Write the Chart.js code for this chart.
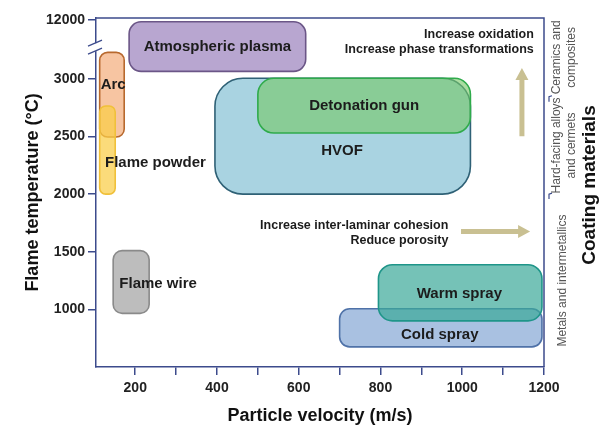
<!DOCTYPE html>
<html>
<head>
<meta charset="utf-8">
<script src="https://cdn.jsdelivr.net/npm/chart.js@4.4.1/dist/chart.umd.min.js"></script>
<style>
  html, body { margin: 0; padding: 0; background: #fff; }
  canvas { display: block; }
</style>
</head>
<body>
<canvas id="chart" width="603" height="428"></canvas>
<script>
// Thermal spray processes: particle velocity range (m/s) and flame temperature range (°C).
// The temperature axis is broken above 3000 °C: the top band is compressed so that
// the position labelled 12000 sits just under the top of the plot.
const processNames   = ['Atmospheric plasma', 'Arc', 'Flame powder', 'Flame wire', 'HVOF', 'Detonation gun', 'Cold spray', 'Warm spray'];
const velocityMin    = [185, 113, 113, 146, 395, 500, 700, 795];
const velocityMax    = [617, 173, 151, 234, 1020, 1020, 1195, 1195];
const temperatureMin = [3065, 2495, 2000, 965, 2000, 2530, 675, 900];
const temperatureMax = [3495, 3230, 2765, 1510, 3005, 3005, 1005, 1387];

// Where each process name is written (velocity, temperature)
const labelVelocity    = [401, 146, 126, 161, 706, 760, 945, 993];
const labelTemperature = [3280, 2948, 2275, 1225, 2375, 2765, 783, 1136];
const labelAlign       = ['center', 'center', 'left', 'left', 'center', 'center', 'center', 'center'];

// Axis ticks
const velocityTicks        = [200, 300, 400, 500, 600, 700, 800, 900, 1000, 1100, 1200];
const temperatureTickPos   = [1000, 1500, 2000, 2500, 3000, 3510];
const temperatureTickLabels = ['1000', '1500', '2000', '2500', '3000', '12000'];
const axisBreakAt = 3275;

// Coating material families along the temperature axis
const materialBandEdges = [500, 2000, 2845, 3528];
const materialBandNames = [['Metals and intermetallics'], ['Hard-facing alloys', 'and cermets'], ['Ceramics and', 'composites']];

// Trend notes
const heatNotes = ['Increase oxidation', 'Increase phase transformations'];
const speedNotes = ['Increase inter-laminar cohesion', 'Reduce porosity'];

// Box styles, same order as processNames
const boxStyles = [
  { fill: 'rgba(172,150,200,0.85)', stroke: '#6b5687', radius: 12 },
  { fill: 'rgba(244,172,122,0.70)', stroke: '#b8692e', radius: 8 },
  { fill: 'rgba(249,205,70,0.72)',  stroke: '#f0c03a', radius: 6 },
  { fill: '#bdbdbd',                stroke: '#8a8a8a', radius: 9 },
  { fill: '#a9d3e1',                stroke: '#2f6176', radius: 28 },
  { fill: 'rgba(118,200,104,0.62)', stroke: '#2fab4b', radius: 16 },
  { fill: '#a9c1e1',                stroke: '#4f72a8', radius: 10 },
  { fill: 'rgba(58,168,152,0.70)',  stroke: '#1f9589', radius: 14 }
];

const AXIS = '#3c4b8c';
const FONT = '"Liberation Sans", Arial, Helvetica, sans-serif';
const ARROW = '#c9c092';

function roundedRect(ctx, x, y, w, h, r) {
  r = Math.min(r, w / 2, h / 2);
  ctx.beginPath();
  ctx.moveTo(x + r, y);
  ctx.lineTo(x + w - r, y);
  ctx.arcTo(x + w, y, x + w, y + r, r);
  ctx.lineTo(x + w, y + h - r);
  ctx.arcTo(x + w, y + h, x + w - r, y + h, r);
  ctx.lineTo(x + r, y + h);
  ctx.arcTo(x, y + h, x, y + h - r, r);
  ctx.lineTo(x, y + r);
  ctx.arcTo(x, y, x + r, y, r);
  ctx.closePath();
}

function drawArrow(ctx, x0, y0, x1, y1, shaft, head, headLen) {
  const a = Math.atan2(y1 - y0, x1 - x0);
  const len = Math.hypot(x1 - x0, y1 - y0);
  ctx.save();
  ctx.translate(x0, y0);
  ctx.rotate(a);
  ctx.fillStyle = ARROW;
  ctx.beginPath();
  ctx.moveTo(0, -shaft / 2);
  ctx.lineTo(len - headLen, -shaft / 2);
  ctx.lineTo(len - headLen, -head / 2);
  ctx.lineTo(len, 0);
  ctx.lineTo(len - headLen, head / 2);
  ctx.lineTo(len - headLen, shaft / 2);
  ctx.lineTo(0, shaft / 2);
  ctx.closePath();
  ctx.fill();
  ctx.restore();
}

const processBoxes = {
  id: 'processBoxes',
  beforeDatasetsDraw(chart) {
    const { ctx, scales: { x, y } } = chart;
    ctx.save();
    processNames.forEach((name, i) => {
      const st = boxStyles[i];
      const left = x.getPixelForValue(velocityMin[i]);
      const right = x.getPixelForValue(velocityMax[i]);
      const top = y.getPixelForValue(temperatureMax[i]);
      const bottom = y.getPixelForValue(temperatureMin[i]);
      roundedRect(ctx, left, top, right - left, bottom - top, st.radius);
      ctx.fillStyle = st.fill;
      ctx.fill();
      ctx.lineWidth = 1.6;
      ctx.strokeStyle = st.stroke;
      ctx.stroke();
    });
    ctx.font = 'bold 15px ' + FONT;
    ctx.fillStyle = '#1c1c1c';
    ctx.textBaseline = 'middle';
    processNames.forEach((name, i) => {
      ctx.textAlign = labelAlign[i];
      ctx.fillText(name, x.getPixelForValue(labelVelocity[i]), y.getPixelForValue(labelTemperature[i]));
    });
    ctx.restore();
  },
  afterDraw(chart) {
    const { ctx, chartArea: ca, scales: { x, y } } = chart;
    ctx.save();

    // top and right frame of the plot
    ctx.strokeStyle = AXIS;
    ctx.lineWidth = 1.5;
    ctx.beginPath();
    ctx.moveTo(ca.left, ca.top);
    ctx.lineTo(ca.right, ca.top);
    ctx.lineTo(ca.right, ca.bottom);
    ctx.stroke();

    // axis break marks
    const by = y.getPixelForValue(axisBreakAt);
    ctx.fillStyle = '#fff';
    ctx.fillRect(ca.left - 2, by - 4, 4, 8);
    ctx.strokeStyle = AXIS;
    ctx.lineWidth = 1.3;
    [-4, 4].forEach(d => {
      ctx.beginPath();
      ctx.moveTo(ca.left - 8, by + d + 3);
      ctx.lineTo(ca.left + 6, by + d - 3);
      ctx.stroke();
    });

    // trend notes and arrows
    ctx.fillStyle = '#1c1c1c';
    ctx.font = 'bold 12.5px ' + FONT;
    ctx.textAlign = 'right';
    ctx.textBaseline = 'middle';
    ctx.fillText(heatNotes[0], x.getPixelForValue(1175), y.getPixelForValue(3381));
    ctx.fillText(heatNotes[1], x.getPixelForValue(1175), y.getPixelForValue(3251));
    ctx.fillText(speedNotes[0], x.getPixelForValue(966), y.getPixelForValue(1728));
    ctx.fillText(speedNotes[1], x.getPixelForValue(966), y.getPixelForValue(1598));
    drawArrow(ctx, x.getPixelForValue(1146), y.getPixelForValue(2503), x.getPixelForValue(1146), y.getPixelForValue(3095), 5, 13, 12);
    drawArrow(ctx, x.getPixelForValue(997), y.getPixelForValue(1676), x.getPixelForValue(1166), y.getPixelForValue(1676), 5, 13, 12);

    // coating material families
    const bx = ca.right + 5;
    ctx.strokeStyle = AXIS;
    ctx.lineWidth = 1.2;
    materialBandEdges.slice(1, -1).forEach(v => {
      const py = y.getPixelForValue(v);
      ctx.beginPath();
      ctx.moveTo(bx, py + 5);
      ctx.lineTo(bx, py);
      ctx.lineTo(bx + 3, py - 1);
      ctx.stroke();
    });
    ctx.fillStyle = '#555';
    ctx.font = '12px ' + FONT;
    ctx.textAlign = 'center';
    materialBandNames.forEach((lines, i) => {
      const cy = (y.getPixelForValue(materialBandEdges[i]) + y.getPixelForValue(materialBandEdges[i + 1])) / 2;
      const xs = lines.length === 1 ? [ca.right + 19] : [ca.right + 13, ca.right + 28];
      lines.forEach((t, k) => {
        ctx.save();
        ctx.translate(xs[k], cy);
        ctx.rotate(-Math.PI / 2);
        ctx.fillText(t, 0, 0);
        ctx.restore();
      });
    });
    ctx.save();
    ctx.fillStyle = '#111';
    ctx.font = 'bold 19px ' + FONT;
    ctx.translate(ca.right + 46, 185);
    ctx.rotate(-Math.PI / 2);
    ctx.fillText('Coating materials', 0, 0);
    ctx.restore();

    ctx.restore();
  }
};

const tickFont = { family: FONT, size: 14, weight: 'bold' };
const titleFont = { family: FONT, size: 18, weight: 'bold' };

new Chart(document.getElementById('chart'), {
  type: 'scatter',
  data: { datasets: [{ data: [], pointRadius: 0 }] },
  options: {
    responsive: false,
    animation: false,
    devicePixelRatio: 1,
    layout: { padding: { top: 18, right: 59, left: 0, bottom: 0 } },
    plugins: { legend: { display: false }, tooltip: { enabled: false } },
    scales: {
      x: {
        type: 'linear',
        min: 104,
        max: 1200,
        afterFit(s) { s.height = 61; },
        afterBuildTicks(s) { s.ticks = velocityTicks.map(v => ({ value: v })); },
        ticks: {
          autoSkip: false,
          maxRotation: 0,
          padding: 5,
          color: '#222',
          font: tickFont,
          callback: v => (v % 200 === 0 ? String(v) : '')
        },
        grid: { drawOnChartArea: false, tickLength: 8, color: AXIS, lineWidth: 1.5 },
        border: { color: AXIS, width: 1.5 },
        title: { display: true, text: 'Particle velocity (m/s)', color: '#111', font: titleFont, padding: { top: 0, bottom: 1 } }
      },
      y: {
        type: 'linear',
        min: 500,
        max: 3528,
        afterFit(s) { s.width = 96; },
        afterBuildTicks(s) { s.ticks = temperatureTickPos.map(v => ({ value: v })); },
        ticks: {
          autoSkip: false,
          padding: 3,
          color: '#222',
          font: tickFont,
          callback: (v, i) => temperatureTickLabels[i]
        },
        grid: { drawOnChartArea: false, tickLength: 8, color: AXIS, lineWidth: 1.5 },
        border: { color: AXIS, width: 1.5 },
        title: { display: true, text: 'Flame temperature (°C)', color: '#111', font: titleFont, padding: { top: 22, bottom: 0 } }
      }
    }
  },
  plugins: [processBoxes]
});
</script>
</body>
</html>
